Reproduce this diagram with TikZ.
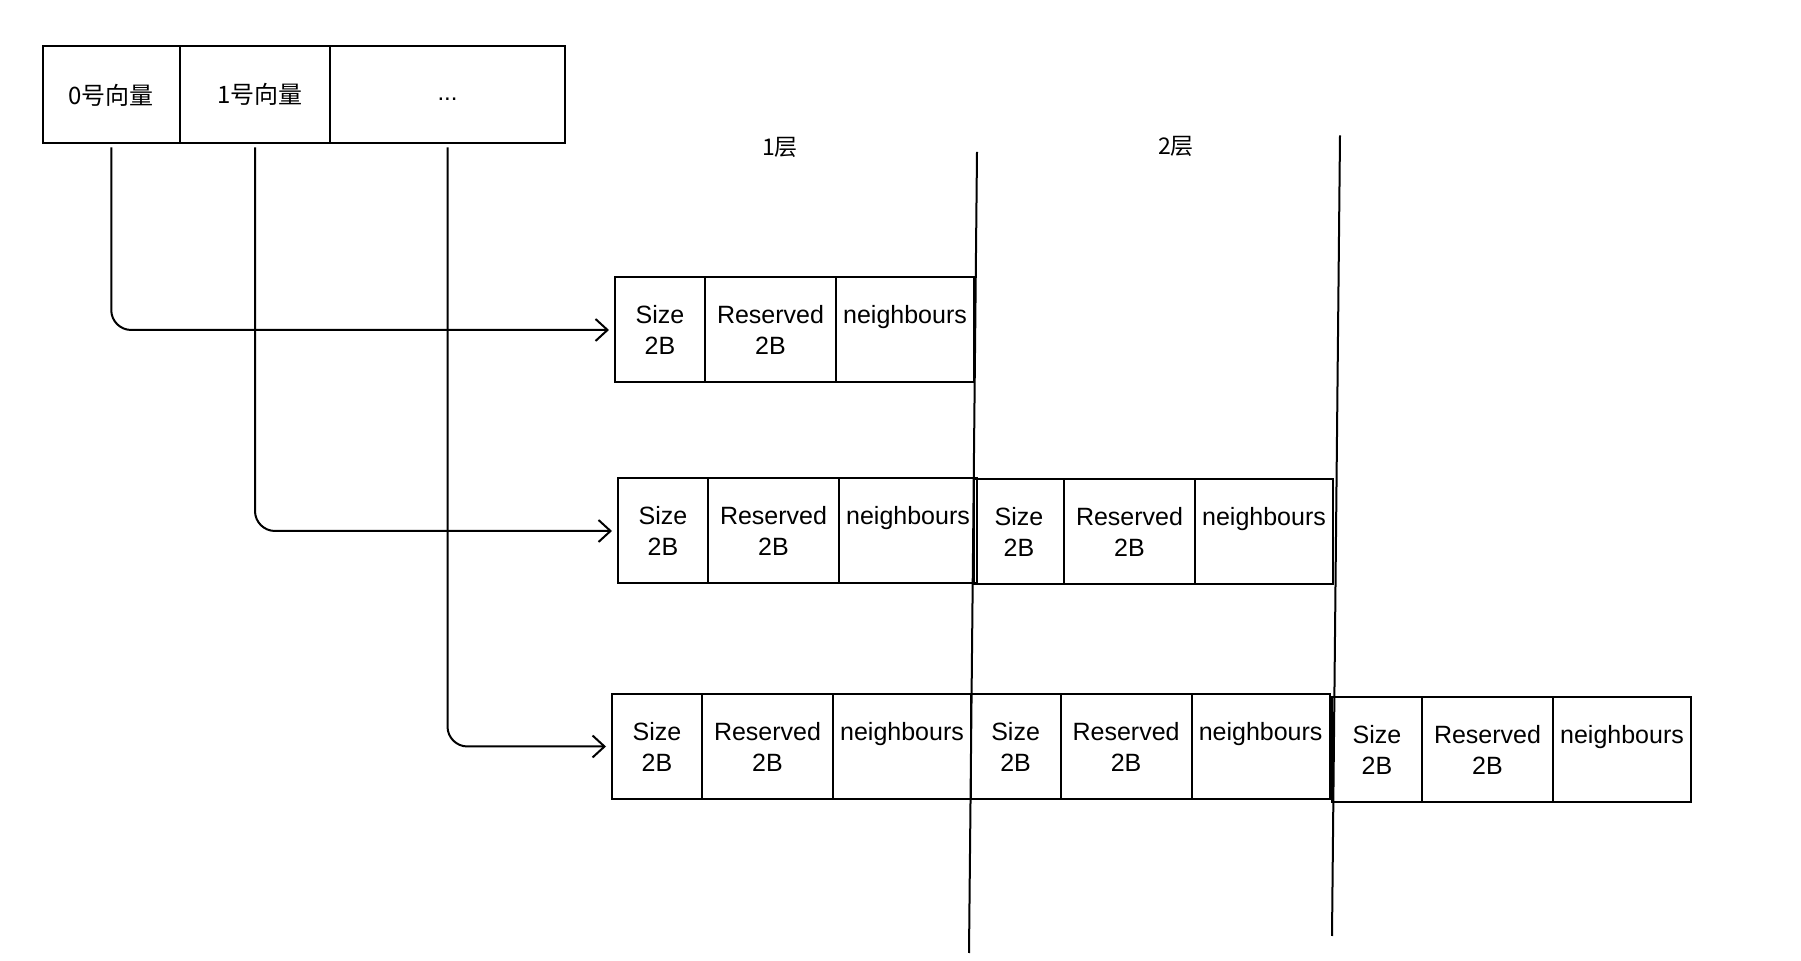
\documentclass[tikz,border=0pt]{standalone}
\usepackage{fontspec}
\setmainfont{Liberation Sans}
\newfontfamily\cjk{Noto Sans CJK SC}
\usetikzlibrary{arrows.meta,positioning}

\begin{document}
\begin{tikzpicture}[x=0.5pt,y=-0.5pt,
	cell/.style={draw,line width=1pt,outer sep=0pt,inner sep=0pt,minimum height=52.5pt,align=center,font=\fontsize{12.5}{15.5}\selectfont,anchor=west},
	vec/.style={draw,line width=1pt,outer sep=0pt,inner sep=0pt,minimum height=48.5pt,font=\cjk\fontsize{12}{14}\selectfont,anchor=west},
	link/.style={line width=1pt,rounded corners=10pt,-{Straight Barb[length=6pt,width=11pt]},shorten >=3pt,shorten <=2pt},
	layer/.style={line width=1pt}]
	\useasboundingbox (0,0) rectangle (1801,961);
	% vector table
	\node[vec,minimum width=68.75pt] (v0) at (42.5,95) {0号向量};
	\node[vec,minimum width=75pt,right=0pt of v0] (v1) {\hspace{5pt}\raisebox{2pt}{1号向量}};
	\node[vec,minimum width=117.5pt,right=0pt of v1] (v2) {\rmfamily\strut ...};
	% layer borders
	\coordinate (l1top) at (977,152);
	\coordinate (l1bot) at (969,953);
	\coordinate (l2top) at (1340,135.5);
	\coordinate (l2bot) at (1332,936);
	\draw[layer] (l1top) -- (l1bot);
	\draw[layer] (l2top) -- (l2bot);
	\path (780,147) node[font=\cjk\fontsize{11.5}{13}\selectfont] (t1) {1层};
	\path (1176,146) node[font=\cjk\fontsize{11.5}{13}\selectfont] (t2) {2层};
	% neighbour lists
	\foreach \g/\x/\y in {a/615/330, b/618/531, c/974/532, d/612/746.5, e/970.6/747, f/1332/750} {
		\node[cell,minimum width=45pt] (\g1) at (\x,\y) {Size\\2B};
		\node[cell,minimum width=65.5pt,right=0pt of \g1] (\g2) {Reserved\\2B};
		\node[cell,minimum width=69pt,right=0pt of \g2] (\g3) {neighbours\\\mbox{}};
	}
	\draw[link] (v0.south) |- (a1.west);
	\draw[link] (v1.south) |- (b1.west);
	\draw[link] (v2.south) |- (d1.west);
\end{tikzpicture}
\end{document}
